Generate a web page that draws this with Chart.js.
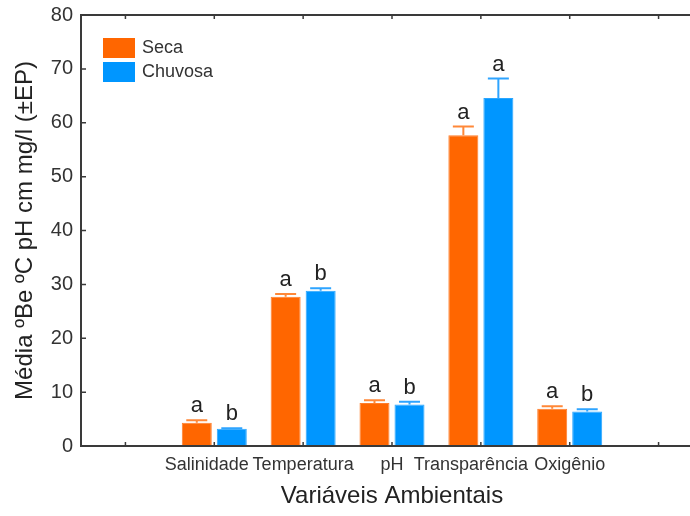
<!DOCTYPE html>
<html><head><meta charset="utf-8">
<script src="https://cdn.jsdelivr.net/npm/chart.js@4/dist/chart.umd.min.js"></script>
<style>html,body{margin:0;padding:0;overflow:hidden;background:#fff}</style>
</head><body>
<canvas id="c" width="710" height="516"></canvas>
<script>
const categories = ['', 'Salinidade', 'Temperatura', 'pH', 'Transparência', 'Oxigênio', ''];
const seriesNames = ['Seca', 'Chuvosa'];
const secaMeans = [null, 4.3, 27.7, 8.0, 57.7, 6.9, null];
const chuvosaMeans = [null, 3.2, 28.8, 7.7, 64.6, 6.4, null];
const secaEP = [null, 0.5, 0.5, 0.5, 1.6, 0.5, null];
const chuvosaEP = [null, 0.1, 0.5, 0.5, 3.6, 0.4, null];
const secaLetters = ['', 'a', 'a', 'a', 'a', 'a', ''];
const chuvosaLetters = ['', 'b', 'b', 'b', 'a', 'b', ''];
const yMin = 0, yMax = 80, yStep = 10;
const yTitle = 'Média ºBe ºC pH cm mg/l (±EP)';
const xTitle = 'Variáveis Ambientais';

const FONT = 'Liberation Sans, Arial, sans-serif';
const axisColor = '#3a3a3a';

const errs = [secaEP, chuvosaEP];
const letters = [secaLetters, chuvosaLetters];
const errColors = ['#ff8838', '#2ea4ff'];
// visual trailing padding so crowded labels sit slightly left, as in the original
const labelPad = { 'Salinidade': '   ', 'Transparência': '    ' };

const framePlugin = {
  id: 'frame',
  afterDatasetsDraw(chart) {
    const ctx = chart.ctx, ca = chart.chartArea;
    const xs = chart.scales.x, ys = chart.scales.y;
    ctx.save();
    chart.data.datasets.forEach((ds, i) => {
      const meta = chart.getDatasetMeta(i);
      meta.data.forEach((el, j) => {
        const v = ds.data[j];
        if (v === null || v === undefined) return;
        const top = ys.getPixelForValue(v + errs[i][j]);
        ctx.strokeStyle = errColors[i];
        ctx.lineWidth = 2;
        ctx.beginPath();
        ctx.moveTo(el.x, el.y);
        ctx.lineTo(el.x, top);
        ctx.moveTo(el.x - 10.5, top);
        ctx.lineTo(el.x + 10.5, top);
        ctx.stroke();
        ctx.fillStyle = '#222';
        ctx.font = '22px ' + FONT;
        ctx.textAlign = 'center';
        ctx.textBaseline = 'alphabetic';
        ctx.fillText(letters[i][j], el.x, top - 8);
      });
    });
    ctx.strokeStyle = axisColor;
    ctx.lineWidth = 2;
    ctx.beginPath();
    ctx.moveTo(ca.left, ca.top); ctx.lineTo(ca.left, ca.bottom);
    ctx.moveTo(ca.left - 1, ca.bottom); ctx.lineTo(chart.width, ca.bottom);
    ctx.moveTo(ca.left - 1, ca.top); ctx.lineTo(chart.width, ca.top);
    ctx.stroke();
    ctx.lineWidth = 1.5;
    ctx.beginPath();
    ys.ticks.forEach(t => {
      const y = ys.getPixelForValue(t.value);
      ctx.moveTo(ca.left, y); ctx.lineTo(ca.left + 5, y);
    });
    categories.forEach((c, k) => {
      const x = xs.getPixelForValue(k);
      ctx.moveTo(x, ca.bottom); ctx.lineTo(x, ca.bottom - 4);
      ctx.moveTo(x, ca.top); ctx.lineTo(x, ca.top + 4);
    });
    ctx.stroke();
    const lx = 103, ly = [38, 62];
    chart.data.datasets.forEach((ds, i) => {
      ctx.fillStyle = ds.backgroundColor;
      ctx.fillRect(lx, ly[i], 32, 20);
      ctx.fillStyle = '#333';
      ctx.font = '18px ' + FONT;
      ctx.textAlign = 'left';
      ctx.textBaseline = 'middle';
      ctx.fillText(ds.label, lx + 39, ly[i] + 10);
    });
    ctx.restore();
  }
};

new Chart(document.getElementById('c'), {
  type: 'bar',
  data: {
    labels: categories,
    datasets: [
      { label: seriesNames[0], data: secaMeans, backgroundColor: '#ff6600', borderColor: '#ff7d2a', borderWidth: 1 },
      { label: seriesNames[1], data: chuvosaMeans, backgroundColor: '#0096ff', borderColor: '#2aa6ff', borderWidth: 1 }
    ]
  },
  options: {
    responsive: false,
    animation: false,
    devicePixelRatio: 1,
    categoryPercentage: 0.788,
    barPercentage: 0.857,
    layout: { padding: { left: 0, top: 15, right: 7, bottom: 0 } },
    plugins: { legend: { display: false }, tooltip: { enabled: false } },
    scales: {
      x: {
        grid: { display: false },
        border: { display: false },
        ticks: {
          autoSkip: false, maxRotation: 0, minRotation: 0, padding: 0, color: '#333',
          font: { family: FONT, size: 18 },
          callback(v) { const l = categories[v]; return l + (labelPad[l] || ''); }
        },
        title: { display: true, text: xTitle, color: '#222', font: { family: FONT, size: 24 }, padding: { top: 0, bottom: 5 } },
        afterFit(s) { s.height = 70; }
      },
      y: {
        min: yMin, max: yMax,
        grid: { display: false },
        border: { display: false },
        ticks: { stepSize: yStep, padding: 0, color: '#333', font: { family: FONT, size: 20 } },
        title: { display: true, text: yTitle, color: '#222', font: { family: FONT, size: 24 }, padding: { top: 11, bottom: 0 } },
        afterFit(s) { s.width = 81; }
      }
    }
  },
  plugins: [framePlugin]
});
</script>
</body></html>
